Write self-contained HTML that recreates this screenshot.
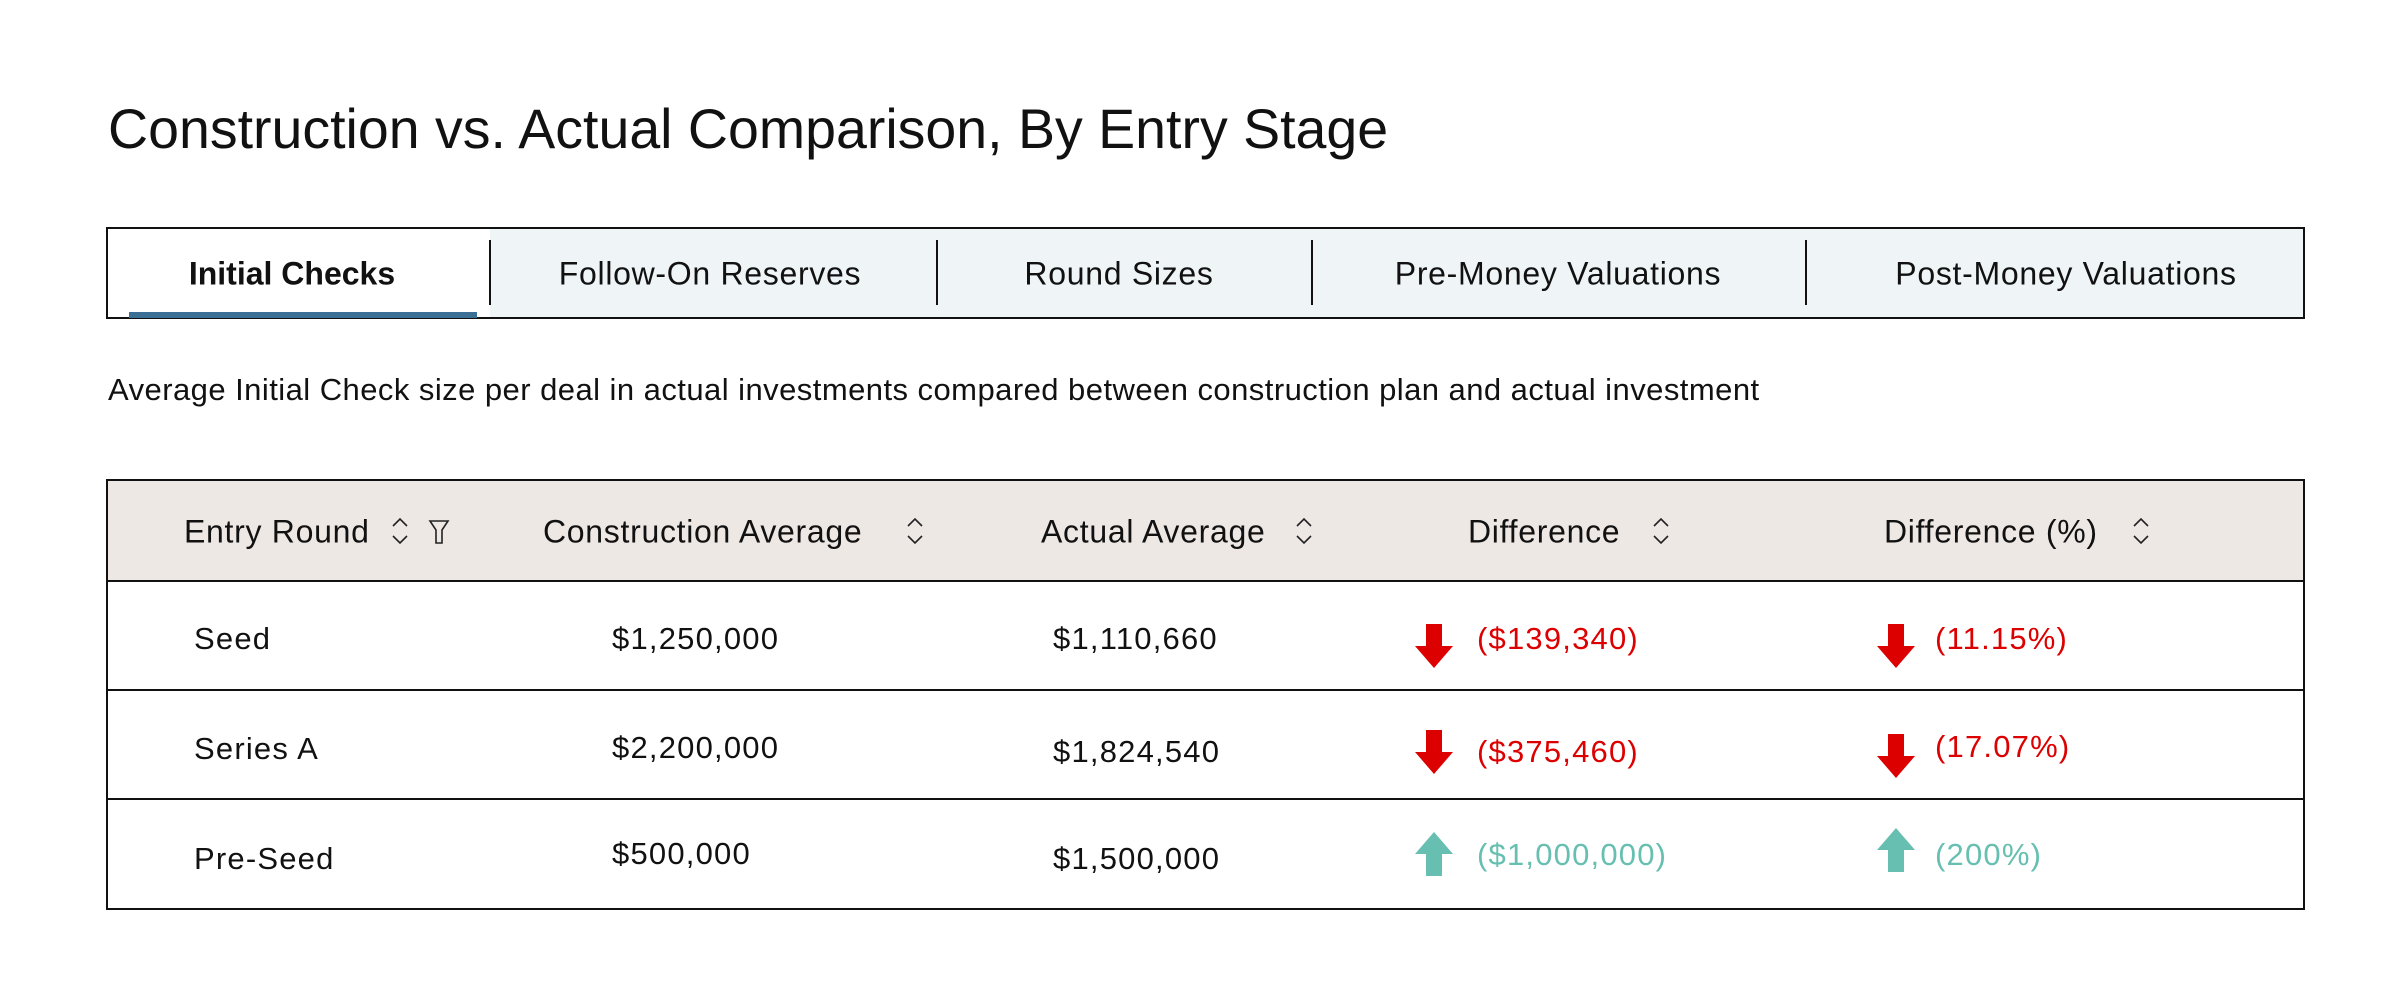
<!DOCTYPE html>
<html><head><meta charset="utf-8"><style>
*{margin:0;padding:0;box-sizing:border-box}
body{width:2400px;height:1004px;background:#fff;font-family:"Liberation Sans",sans-serif;color:#111;position:relative;overflow:hidden}
.a{position:absolute;white-space:nowrap}
.t{font-size:31px;transform:translateY(-50%);letter-spacing:1.2px}
.h{font-size:32px;letter-spacing:0.7px}
.c{transform:translate(-50%,-50%)}
.red{color:#dd0000}.teal{color:#66bfb0}
.sep{position:absolute;top:240px;width:2px;height:65px;background:#111}
.hl{position:absolute;left:106px;width:2199px;height:2px;background:#111}
</style></head><body>
<div class="a" style="left:108px;top:97px;font-size:55.5px;letter-spacing:0px">Construction vs. Actual Comparison, By Entry Stage</div>

<div class="a" style="left:106px;top:227px;width:2199px;height:92px;border:2px solid #111;background:#eff4f7"></div>
<div class="a" style="left:108px;top:229px;width:382px;height:88px;background:#fff"></div>
<div class="a" style="left:129px;top:312px;width:348px;height:6px;background:#3b6f96"></div>
<div class="sep" style="left:489px"></div><div class="sep" style="left:936px"></div><div class="sep" style="left:1311px"></div><div class="sep" style="left:1805px"></div>
<div class="a t c h" style="left:292px;top:274px;font-weight:bold;letter-spacing:0">Initial Checks</div>
<div class="a t c h" style="left:710px;top:274px">Follow-On Reserves</div>
<div class="a t c h" style="left:1119px;top:274px">Round Sizes</div>
<div class="a t c h" style="left:1558px;top:274px">Pre-Money Valuations</div>
<div class="a t c h" style="left:2066px;top:274px">Post-Money Valuations</div>

<div class="a t" style="left:108px;top:390px;font-size:31px;letter-spacing:0.45px">Average Initial Check size per deal in actual investments compared between construction plan and actual investment</div>

<div class="a" style="left:106px;top:479px;width:2199px;height:431px;border:2px solid #111"></div>
<div class="a" style="left:108px;top:481px;width:2195px;height:100px;background:#eee8e5"></div>
<div class="hl" style="top:580px"></div><div class="hl" style="top:689px"></div><div class="hl" style="top:798px"></div>

<div class="a t h" style="left:184px;top:532px">Entry Round</div>
<div class="a t h" style="left:543px;top:532px">Construction Average</div>
<div class="a t h" style="left:1041px;top:532px">Actual Average</div>
<div class="a t h" style="left:1468px;top:532px">Difference</div>
<div class="a t h" style="left:1884px;top:532px">Difference (%)</div>
<svg class="a" style="left:0;top:0" width="2400" height="1004" fill="none" stroke="#222" stroke-width="1.6">
<g id="s"><path d="M393 526l7-7 7 7M393 536l7 7 7-7"/></g>
<use href="#s" x="515"/><use href="#s" x="904"/><use href="#s" x="1261"/><use href="#s" x="1741"/>
<path d="M430 521h18l-6 9v13h-6v-13z"/>
<g stroke="none" fill="#dd0000">
<path d="M1426 624h16v20h18l-18 0-8 0z" />
<path d="M1426 624h16v22h11l-19 22-19-22h11z"/>
<path d="M1888 624h16v22h11l-19 22-19-22h11z"/>
<path d="M1426 730h16v22h11l-19 22-19-22h11z"/>
<path d="M1888 734h16v22h11l-19 22-19-22h11z"/>
</g>
<g stroke="none" fill="#66bfb0">
<path d="M1426 876h16v-22h11l-19-22-19 22h11z"/>
<path d="M1888 872h16v-22h11l-19-22-19 22h11z"/>
</g>
</svg>

<div class="a t" style="left:194px;top:639px">Seed</div>
<div class="a t" style="left:612px;top:639px">$1,250,000</div>
<div class="a t" style="left:1053px;top:639px">$1,110,660</div>
<div class="a t red" style="left:1477px;top:639px">($139,340)</div>
<div class="a t red" style="left:1935px;top:639px">(11.15%)</div>

<div class="a t" style="left:194px;top:749px">Series A</div>
<div class="a t" style="left:612px;top:748px">$2,200,000</div>
<div class="a t" style="left:1053px;top:752px">$1,824,540</div>
<div class="a t red" style="left:1477px;top:752px">($375,460)</div>
<div class="a t red" style="left:1935px;top:747px">(17.07%)</div>

<div class="a t" style="left:194px;top:859px">Pre-Seed</div>
<div class="a t" style="left:612px;top:854px">$500,000</div>
<div class="a t" style="left:1053px;top:859px">$1,500,000</div>
<div class="a t teal" style="left:1477px;top:855px">($1,000,000)</div>
<div class="a t teal" style="left:1935px;top:855px">(200%)</div>
</body></html>
